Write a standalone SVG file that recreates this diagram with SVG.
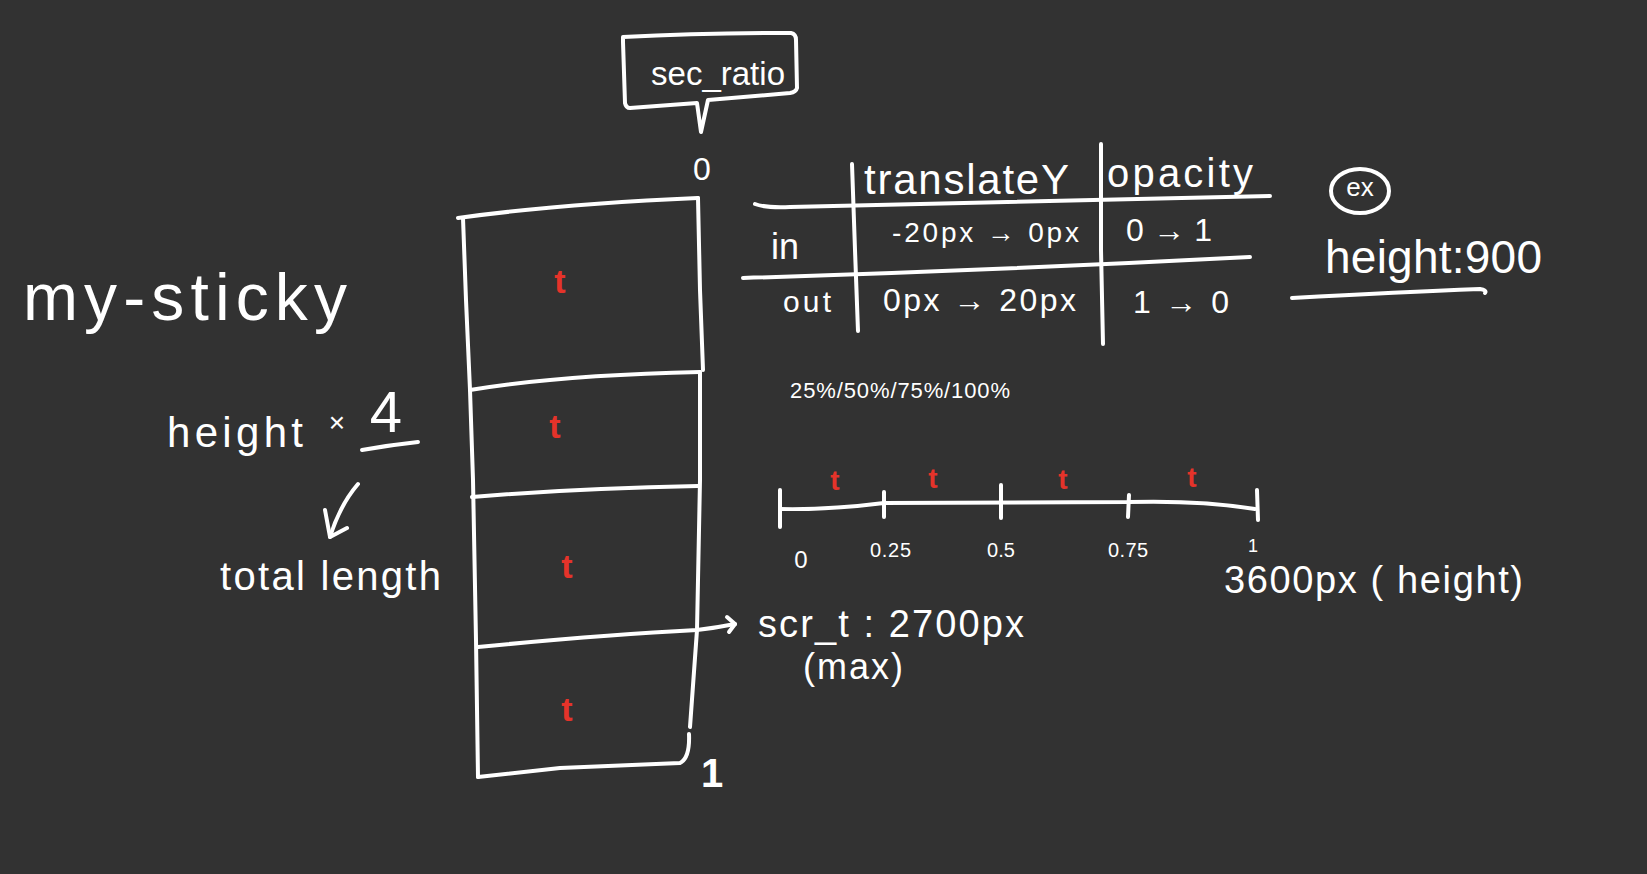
<svg xmlns="http://www.w3.org/2000/svg" width="1647" height="874" viewBox="0 0 1647 874">
<style>
.ln{fill:none;stroke:#ffffff;stroke-width:4;stroke-linecap:round;stroke-linejoin:round}
.tx{fill:#ffffff;font-family:"Liberation Sans","DejaVu Sans",sans-serif}
.rt{fill:#e5332a;font-family:"Liberation Sans","DejaVu Sans",sans-serif;font-weight:bold;text-anchor:middle}
</style>
<rect x="0" y="0" width="1647" height="874" fill="#323232"/>

<g id="sec-ratio-callout">
<path class="ln" d="M623,37 Q700,33 791,33 Q796,34 796,40 L797,88 Q796,92 790,93 L708,100 L701,132 L697,103 L630,108 Q626,108 625,103 L623,42 Z"/>
<text class="tx" x="651" y="85" font-size="34" textLength="134" lengthAdjust="spacingAndGlyphs">sec_ratio</text>
</g>

<g id="ratio-zero"><text class="tx" x="702" y="180" font-size="32" text-anchor="middle">0</text></g>
<g id="ratio-one"><text class="tx" x="712" y="787" font-size="40" font-weight="bold" text-anchor="middle">1</text></g>

<g id="column">
<path class="ln" d="M458,218 Q560,204 698,198"/>
<path class="ln" d="M463,218 L466,300 L470,390 L473,480 L476,640 L478,777"/>
<path class="ln" d="M698,198 L700,290 L703,370"/>
<path class="ln" d="M470,390 Q560,375 700,372"/>
<path class="ln" d="M700,372 L700,480 L697,630 L690,727"/>
<path class="ln" d="M472,497 Q580,488 698,486"/>
<path class="ln" d="M689,734 Q690,758 680,763 L560,768 L478,777"/>
<text class="rt" x="560" y="293" font-size="34">t</text>
<text class="rt" x="555" y="438" font-size="34">t</text>
<text class="rt" x="567" y="578" font-size="34">t</text>
<text class="rt" x="567" y="721" font-size="34">t</text>
</g>

<g id="connectors">
<path class="ln" d="M478,647 Q600,635 697,630 Q715,628 735,624"/>
<path class="ln" d="M727,617 L735,624 L729,632"/>
<path class="ln" d="M358,484 Q340,505 330,537"/>
<path class="ln" d="M325,510 L330,537 L347,528"/>
</g>

<g id="my-sticky">
<text class="tx" x="23" y="320" font-size="66" textLength="324" lengthAdjust="spacing">my-sticky</text>
</g>

<g id="height-x4">
<text class="tx" x="167" y="447" font-size="42" textLength="136" lengthAdjust="spacing">height</text>
<text class="tx" x="337" y="432" font-size="28" text-anchor="middle">×</text>
<text class="tx" x="386" y="432" font-size="58" text-anchor="middle">4</text>
<path class="ln" d="M362,450 Q390,445 418,442"/>
</g>

<g id="total-length">
<text class="tx" x="220" y="590" font-size="40" textLength="221" lengthAdjust="spacing">total length</text>
</g>

<g id="scr-t">
<text class="tx" x="758" y="637" font-size="38" textLength="266" lengthAdjust="spacing">scr_t : 2700px</text>
<text class="tx" x="803" y="679" font-size="36" textLength="100" lengthAdjust="spacing">(max)</text>
</g>

<g id="table">
<path class="ln" d="M755,204 Q765,208 790,207 L1270,196"/>
<path class="ln" d="M743,278 Q1000,270 1250,257"/>
<path class="ln" d="M852,164 L855,250 L858,331"/>
<path class="ln" d="M1101,144 L1101,250 L1103,344"/>
<text class="tx" x="864" y="194" font-size="42" textLength="205" lengthAdjust="spacing">translateY</text>
<text class="tx" x="1107" y="187" font-size="40" textLength="146" lengthAdjust="spacing">opacity</text>
<text class="tx" x="771" y="259" font-size="36">in</text>
<text class="tx" x="892" y="242" font-size="28" textLength="187" lengthAdjust="spacing">-20px → 0px</text>
<text class="tx" x="1126" y="241" font-size="32" textLength="86" lengthAdjust="spacing">0 → 1</text>
<text class="tx" x="783" y="312" font-size="30" textLength="48" lengthAdjust="spacing">out</text>
<text class="tx" x="883" y="311" font-size="32" textLength="193" lengthAdjust="spacing">0px → 20px</text>
<text class="tx" x="1133" y="313" font-size="32" textLength="96" lengthAdjust="spacing">1 → 0</text>
</g>

<g id="percent-steps">
<text class="tx" x="790" y="398" font-size="22" textLength="220" lengthAdjust="spacing">25%/50%/75%/100%</text>
</g>

<g id="timeline">
<path class="ln" d="M780,509 Q830,510 884,503 L1128,502 Q1200,500 1255,509"/>
<path class="ln" d="M780,490 L780,527"/>
<path class="ln" d="M884,492 L884,517"/>
<path class="ln" d="M1001,485 L1001,518"/>
<path class="ln" d="M1129,495 L1128,517"/>
<path class="ln" d="M1257,490 L1258,520"/>
<text class="rt" x="835" y="490" font-size="28">t</text>
<text class="rt" x="933" y="488" font-size="28">t</text>
<text class="rt" x="1063" y="489" font-size="28">t</text>
<text class="rt" x="1192" y="487" font-size="28">t</text>
<text class="tx" x="801" y="568" font-size="24" text-anchor="middle">0</text>
<text class="tx" x="870" y="557" font-size="20" textLength="41" lengthAdjust="spacing">0.25</text>
<text class="tx" x="1001" y="557" font-size="20" text-anchor="middle">0.5</text>
<text class="tx" x="1108" y="557" font-size="20" textLength="40" lengthAdjust="spacing">0.75</text>
<text class="tx" x="1253" y="552" font-size="18" text-anchor="middle">1</text>
<text class="tx" x="1224" y="593" font-size="38" textLength="299" lengthAdjust="spacing">3600px ( height)</text>
</g>

<g id="example">
<ellipse class="ln" cx="1360" cy="191" rx="29" ry="22"/>
<text class="tx" x="1360" y="196" font-size="26" text-anchor="middle">ex</text>
<text class="tx" x="1325" y="273" font-size="46" textLength="217" lengthAdjust="spacing">height:900</text>
<path class="ln" d="M1292,298 Q1400,292 1480,289 Q1487,290 1485,293"/>
</g>
</svg>
